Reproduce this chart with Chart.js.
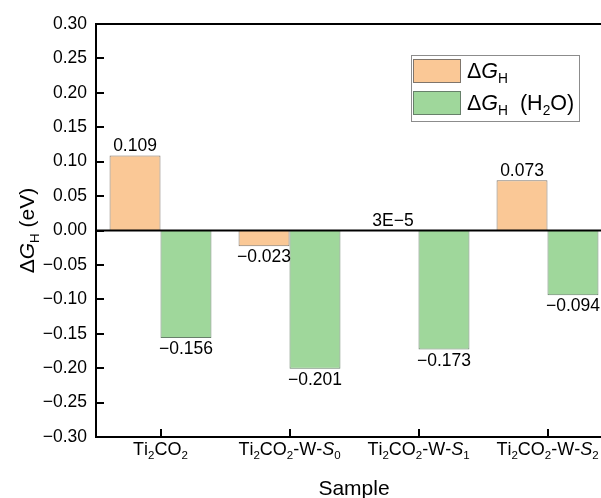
<!DOCTYPE html>
<html>
<head>
<meta charset="utf-8">
<script src="https://cdn.jsdelivr.net/npm/chart.js@4/dist/chart.umd.min.js"></script>
<style>
  html, body { margin: 0; padding: 0; background: #fff; overflow: hidden; }
  #wrap { width: 640px; height: 498px; }
</style>
</head>
<body>
<div id="wrap"><canvas id="chart" width="640" height="498"></canvas></div>
<script>
// '_' = next char subscript, '*...*' = italic
const categories = ['Ti_2CO_2', 'Ti_2CO_2-W-*S*_0', 'Ti_2CO_2-W-*S*_1', 'Ti_2CO_2-W-*S*_2'];
const seriesNames = ['Δ*G*_H', 'Δ*G*_H  (H_2O)'];
const dGH = [0.109, -0.023, 0.00003, 0.073];
const dGH_H2O = [-0.156, -0.201, -0.173, -0.094];
const yMin = -0.30, yMax = 0.30, yStep = 0.05;
const xTitle = 'Sample';
const yTitle = 'Δ*G*_H (eV)';

const FONT = '"Liberation Sans", Arial, sans-serif';
const fillColors = ['#fac896', '#9fd79b'];
const edgeColors = ['#7f756b', '#67806a'];

function parseRich(s) {
  const segs = [];
  let it = false;
  for (let i = 0; i < s.length; i++) {
    const c = s[i];
    if (c === '*') { it = !it; continue; }
    if (c === '_') { segs.push({t: s[++i], it: it, sub: true}); continue; }
    segs.push({t: c, it: it, sub: false});
  }
  return segs;
}
const plain = s => s.replace(/[_*]/g, '');
const font = (size, it) => (it ? 'italic ' : '') + size + 'px ' + FONT;

function drawRich(ctx, text, x, y, size, align) {
  const segs = parseRich(text);
  const subSize = size * 0.64;
  let w = 0;
  segs.forEach(s => {
    ctx.font = font(s.sub ? subSize : size, s.it);
    s.w = ctx.measureText(s.t).width;
    w += s.w;
  });
  let cx = align === 'center' ? x - w / 2 : (align === 'right' ? x - w : x);
  ctx.textAlign = 'left';
  ctx.textBaseline = 'alphabetic';
  segs.forEach(s => {
    ctx.font = font(s.sub ? subSize : size, s.it);
    ctx.fillText(s.t, cx, s.sub ? y + size * 0.24 : y);
    cx += s.w;
  });
}

function fmt(v) {
  let s;
  if (v !== 0 && Math.abs(v) < 0.001) {
    const e = Math.floor(Math.log10(Math.abs(v)));
    s = Math.round(v / Math.pow(10, e)) + 'E' + e;
  } else {
    s = v.toFixed(3);
  }
  return s.replace(/-/g, '\u2212');
}

const decor = {
  id: 'decor',
  afterDatasetsDraw(chart) {
    const {ctx, chartArea: a, scales: {x, y}} = chart;
    ctx.save();
    ctx.strokeStyle = '#000';
    ctx.fillStyle = '#000';

    // value labels
    chart.data.datasets.forEach((ds, di) => {
      const meta = chart.getDatasetMeta(di);
      meta.data.forEach((bar, i) => {
        const v = ds.data[i];
        ctx.font = font(17.5, false);
        ctx.textAlign = 'center';
        ctx.textBaseline = 'alphabetic';
        if (v >= 0) ctx.fillText(fmt(v), bar.x, bar.y - 4);
        else ctx.fillText(fmt(v), bar.x, bar.y + 16);
      });
    });

    // frame and zero line
    ctx.lineWidth = 2;
    ctx.beginPath();
    ctx.moveTo(a.left, a.top); ctx.lineTo(a.right + 40, a.top);
    ctx.moveTo(a.left, a.top - 1); ctx.lineTo(a.left, a.bottom + 1);
    ctx.moveTo(a.left - 1, a.bottom); ctx.lineTo(a.right + 40, a.bottom);
    const y0 = y.getPixelForValue(0);
    ctx.moveTo(a.left, y0); ctx.lineTo(a.right + 40, y0);
    // inward ticks
    y.ticks.forEach(t => {
      const py = Math.round(y.getPixelForValue(t.value));
      ctx.moveTo(a.left, py); ctx.lineTo(a.left + 8, py);
    });
    categories.forEach((c, i) => {
      const px = Math.round(x.getPixelForValue(i));
      ctx.moveTo(px, a.bottom); ctx.lineTo(px, a.bottom - 8);
    });
    ctx.stroke();

    // x tick labels and titles
    categories.forEach((c, i) => {
      drawRich(ctx, c, x.getPixelForValue(i), a.bottom + 18, 18, 'center');
    });
    drawRich(ctx, xTitle, (a.left + a.right) / 2, 495, 21, 'center');
    ctx.save();
    ctx.translate(34, (a.top + a.bottom) / 2);
    ctx.rotate(-Math.PI / 2);
    drawRich(ctx, yTitle, 0, 0, 21, 'center');
    ctx.restore();

    // legend
    ctx.lineWidth = 1;
    ctx.strokeStyle = '#8c8c8c';
    ctx.strokeRect(411.5, 55.5, 168, 66);
    seriesNames.forEach((n, i) => {
      const top = 59 + i * 32;
      ctx.fillStyle = fillColors[i];
      ctx.fillRect(413, top, 48, 24);
      ctx.strokeStyle = edgeColors[i];
      ctx.strokeRect(413.5, top + 0.5, 47, 23);
      ctx.fillStyle = '#000';
      drawRich(ctx, n, 467, top + 19, 21.5, 'left');
    });
    ctx.restore();
  }
};

new Chart(document.getElementById('chart'), {
  type: 'bar',
  data: {
    labels: categories.map(plain),
    datasets: [
      {label: plain(seriesNames[0]), data: dGH, backgroundColor: fillColors[0], borderColor: edgeColors[0], borderWidth: 1},
      {label: plain(seriesNames[1]), data: dGH_H2O, backgroundColor: fillColors[1], borderColor: edgeColors[1], borderWidth: 1}
    ]
  },
  options: {
    responsive: false,
    animation: false,
    categoryPercentage: 0.79,
    barPercentage: 1.0,
    layout: {padding: {top: 24, right: 28, left: 0, bottom: 0}},
    plugins: {legend: {display: false}, tooltip: {enabled: false}},
    scales: {
      x: {
        grid: {display: false},
        border: {display: false},
        ticks: {display: false},
        afterFit(s) { s.height = 61; }
      },
      y: {
        min: yMin, max: yMax,
        grid: {display: false, drawTicks: false},
        border: {display: false},
        ticks: {
          stepSize: yStep,
          padding: 9,
          color: '#000',
          font: {family: FONT, size: 17.5},
          callback: v => v.toFixed(2).replace('-', '\u2212')
        },
        afterFit(s) { s.width = 96; }
      }
    }
  },
  plugins: [decor]
});
</script>
</body>
</html>
